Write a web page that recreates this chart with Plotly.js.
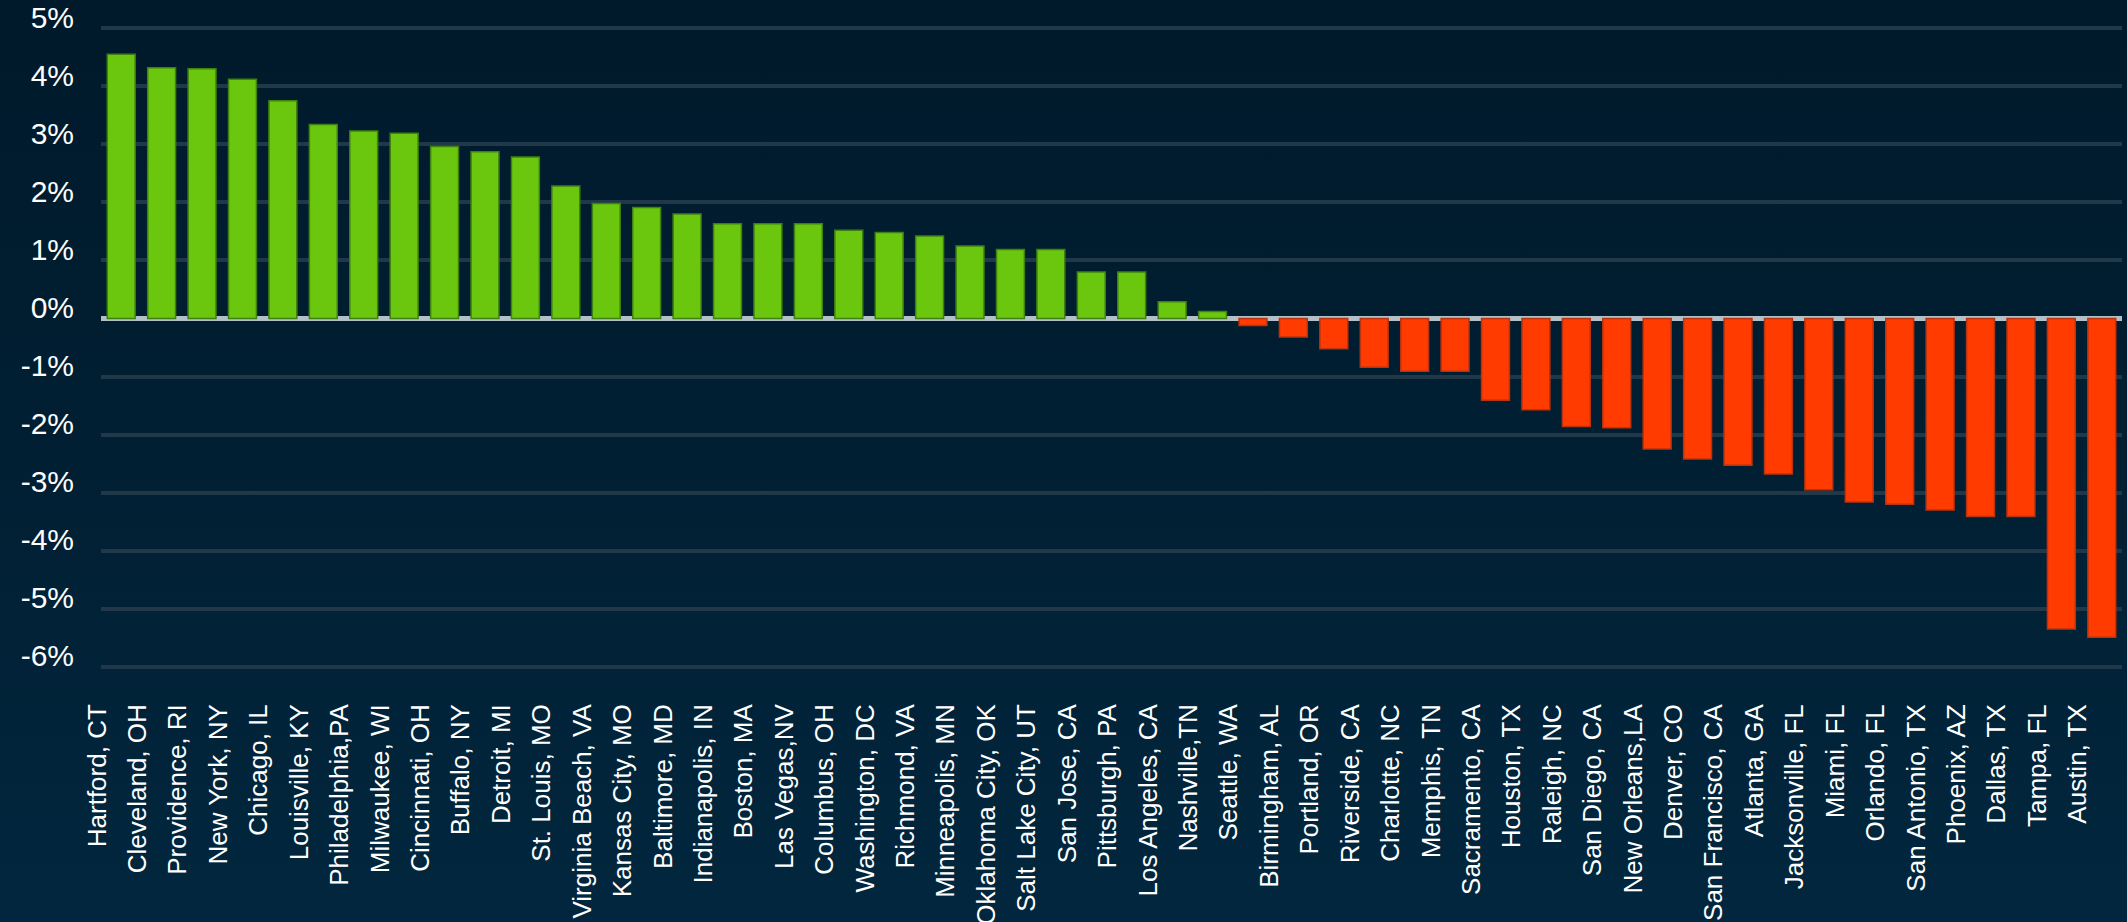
<!DOCTYPE html>
<html>
<head>
<meta charset="utf-8">
<script src="https://cdn.plot.ly/plotly-3.0.1.min.js"></script>
<style>
  html, body { margin: 0; padding: 0; width: 2127px; height: 922px; overflow: hidden; }
  body { background: linear-gradient(to bottom, #001a2b 0%, #011f33 50%, #01273e 100%); }
  #chart { width: 2127px; height: 922px; }
</style>
</head>
<body>
<div id="chart"></div>
<script>
const cities = [
  "Hartford, CT", "Cleveland, OH", "Providence, RI", "New York, NY", "Chicago, IL",
  "Louisville, KY", "Philadelphia,PA", "Milwaukee, WI", "Cincinnati, OH", "Buffalo, NY",
  "Detroit, MI", "St. Louis, MO", "Virginia Beach, VA", "Kansas City, MO", "Baltimore, MD",
  "Indianapolis, IN", "Boston, MA", "Las Vegas,NV", "Columbus, OH", "Washington, DC",
  "Richmond, VA", "Minneapolis, MN", "Oklahoma City, OK", "Salt Lake City, UT", "San Jose, CA",
  "Pittsburgh, PA", "Los Angeles, CA", "Nashville,TN", "Seattle, WA", "Birmingham, AL",
  "Portland, OR", "Riverside, CA", "Charlotte, NC", "Memphis, TN", "Sacramento, CA",
  "Houston, TX", "Raleigh, NC", "San Diego, CA", "New Orleans,LA", "Denver, CO",
  "San Francisco, CA", "Atlanta, GA", "Jacksonville, FL", "Miami, FL", "Orlando, FL",
  "San Antonio, TX", "Phoenix, AZ", "Dallas, TX", "Tampa, FL", "Austin, TX"
];

const changePct = [
  4.55, 4.32, 4.30, 4.12, 3.75,
  3.34, 3.23, 3.19, 2.96, 2.87,
  2.78, 2.28, 1.98, 1.91, 1.80,
  1.63, 1.63, 1.63, 1.52, 1.48,
  1.42, 1.25, 1.19, 1.19, 0.80,
  0.80, 0.29, 0.12, -0.12, -0.32,
  -0.52, -0.84, -0.91, -0.91, -1.41,
  -1.57, -1.86, -1.88, -2.25, -2.42,
  -2.53, -2.68, -2.95, -3.16, -3.20,
  -3.30, -3.41, -3.41, -5.35, -5.49
];

const yTickVals = [5, 4, 3, 2, 1, 0, -1, -2, -3, -4, -5, -6];
const yTickText = ["5%", "4%", "3%", "2%", "1%", "0%", "-1%", "-2%", "-3%", "-4%", "-5%", "-6%"];

const GREEN = "#6ac70e", GREEN_EDGE = "#3f8012";
const RED = "#ff3b00", RED_EDGE = "#b8330f";

const fillColors = changePct.map(v => v >= 0 ? GREEN : RED);
const edgeColors = changePct.map(v => v >= 0 ? GREEN_EDGE : RED_EDGE);

const trace = {
  type: "bar",
  x: cities,
  y: changePct,
  marker: { color: fillColors, line: { color: edgeColors, width: 1.5 } },
  hoverinfo: "skip"
};

const layout = {
  width: 2127,
  height: 922,
  margin: { l: 101, r: 5, t: 27, b: 254, pad: 0 },
  paper_bgcolor: "rgba(0,0,0,0)",
  plot_bgcolor: "rgba(0,0,0,0)",
  showlegend: false,
  bargap: 0.31,
  font: { family: "Liberation Sans, Arial, sans-serif", color: "#ffffff" },
  xaxis: {
    type: "category",
    showgrid: false,
    zeroline: false,
    showline: false,
    ticks: "",
    tickangle: -90,
    tickfont: { size: 26, color: "#ffffff", family: "Liberation Sans, Arial, sans-serif" },
    ticklabelstandoff: 30,
    ticklabelshift: -24,
    ticklabeloverflow: "allow",
    automargin: false
  },
  yaxis: {
    range: [-6.02, 5.02],
    tickvals: yTickVals,
    ticktext: yTickText,
    showgrid: true,
    gridcolor: "#213848",
    gridwidth: 4,
    zeroline: true,
    zerolinecolor: "#b4c0c8",
    zerolinewidth: 5,
    showline: false,
    ticks: "",
    tickfont: { size: 30, color: "#ffffff", family: "Liberation Sans, Arial, sans-serif" },
    ticklabelstandoff: 26,
    ticklabelshift: -11,
    ticklabeloverflow: "allow",
    automargin: false
  }
};

Plotly.newPlot("chart", [trace], layout, { staticPlot: true, displayModeBar: false });
</script>
</body>
</html>
